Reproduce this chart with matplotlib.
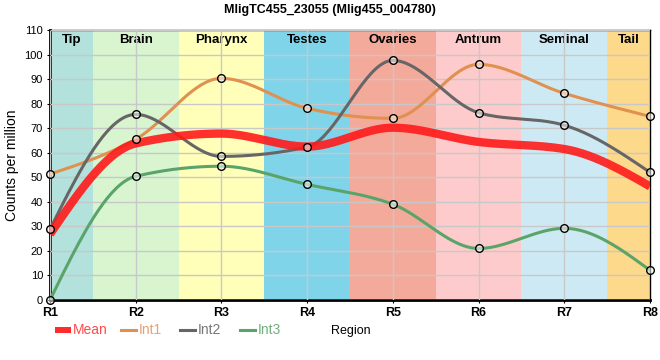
import matplotlib.pyplot as plt
import numpy as np
from matplotlib.lines import Line2D

plt.rcParams['font.family'] = ['Liberation Sans', 'DejaVu Sans']

# data
regions = ['R1', 'R2', 'R3', 'R4', 'R5', 'R6', 'R7', 'R8']
mean = [26.8, 63.8, 67.8, 62.5, 70.2, 64.4, 61.5, 46.3]
int1 = [51.3, 65.5, 90.3, 78.1, 74.0, 96.0, 84.2, 74.8]
int2 = [28.8, 75.6, 58.5, 62.3, 97.6, 76.3, 71.2, 52.0]
int3 = [0.0, 50.4, 54.5, 47.1, 39.0, 21.0, 29.2, 12.1]

tissues = ['Tip', 'Brain', 'Pharynx', 'Testes', 'Ovaries', 'Antrum', 'Seminal', 'Tail']
tissue_colors = ['#b3e2dd', '#d8f5d0', '#ffffb9', '#7fd4ea',
                 '#f4aa9b', '#fdcbcb', '#cdeaf4', '#fdd98b']

W, H = 660, 360


def monotone(x, y, n=40):
    # monotone cubic (d3 curveMonotoneX style) just for drawing smooth lines
    x = np.asarray(x, float)
    y = np.asarray(y, float)
    h = np.diff(x)
    s = np.diff(y) / h
    t = np.zeros(len(x))
    for i in range(1, len(x) - 1):
        p = (s[i - 1] * h[i] + s[i] * h[i - 1]) / (h[i - 1] + h[i])
        t[i] = (np.sign(s[i - 1]) + np.sign(s[i])) * min(abs(s[i - 1]), abs(s[i]), 0.5 * abs(p))
    t[0] = (3 * s[0] - t[1]) / 2
    t[-1] = (3 * s[-1] - t[-2]) / 2
    xs, ys = [], []
    for i in range(len(x) - 1):
        u = np.linspace(0, 1, n)
        h00 = 2 * u**3 - 3 * u**2 + 1
        h10 = u**3 - 2 * u**2 + u
        h01 = -2 * u**3 + 3 * u**2
        h11 = u**3 - u**2
        xs.append(x[i] + u * h[i])
        ys.append(h00 * y[i] + h10 * h[i] * t[i] + h01 * y[i + 1] + h11 * h[i] * t[i + 1])
    return np.concatenate(xs), np.concatenate(ys)


fig = plt.figure(figsize=(W / 100, H / 100), dpi=100)
ax = fig.add_axes([50 / W, 60 / H, 600 / W, 270 / H])

xpos = np.arange(len(regions))

# tissue bands
for i, (name, c) in enumerate(zip(tissues, tissue_colors)):
    lo = max(i - 0.5, 0)
    hi = min(i + 0.5, len(regions) - 1)
    ax.axvspan(lo, hi, color=c, zorder=0, lw=0)
    ax.text((lo + hi) / 2, 105.9, name, ha='center', va='center',
            fontsize=9.5, fontweight='bold', zorder=1)

ax.grid(True, color='#c8c8c8', lw=1, zorder=1)
ax.set_axisbelow(False)

series = [(int1, '#e0904f', 'Int1', '#e8a070'),
          (int2, '#666666', 'Int2', '#777777'),
          (int3, '#5aa469', 'Int3', '#6fb07b')]
for vals, c, lab, tc in series:
    sx, sy = monotone(xpos, vals)
    ax.plot(sx, sy, color=c, lw=2.2, zorder=3)

mx, my = monotone(xpos, mean)
ax.plot(mx, my, color='#ff1a1a', lw=6, alpha=0.9, zorder=4, solid_capstyle='butt')

for vals, c, lab, tc in series:
    ax.plot(xpos, vals, 'o', ms=5.5, mfc=(1, 1, 1, 0.55), mec='black', mew=1,
            zorder=5, clip_on=False)

ax.set_xlim(0, len(regions) - 1)
ax.set_ylim(0, 110)
ax.set_xticks(xpos)
ax.set_xticklabels(regions, fontweight='bold', fontsize=9)
ax.set_yticks(np.arange(0, 111, 10))
ax.tick_params(axis='y', labelsize=8, length=2, pad=3)
ax.tick_params(axis='x', length=2, pad=3)
for sp in ['left', 'bottom']:
    ax.spines[sp].set_linewidth(2)
for sp in ['top', 'right']:
    ax.spines[sp].set_linewidth(1)

ax.set_ylabel('Counts per million', fontsize=10, labelpad=4)
fig.text(351 / W, 1 - 331 / H, 'Region', fontsize=9, ha='center', va='center')

fig.text(0.5, 1 - 10 / H, 'MligTC455_23055 (Mlig455_004780)', fontsize=9, fontweight='bold',
         ha='center', va='center')

# legend row along the bottom
ly = 1 - 330 / H
fig.add_artist(Line2D([55 / W, 71 / W], [ly, ly], color='#ff2a2a', lw=4.3,
                      solid_capstyle='butt', transform=fig.transFigure))
fig.text(73 / W, ly, 'Mean', color='#ff4a4a', fontsize=10, va='center')
for (vals, c, lab, tc), x0 in zip(series, [121, 180, 240]):
    fig.add_artist(Line2D([x0 / W, (x0 + 15) / W], [ly, ly], color=c, lw=2.2,
                          transform=fig.transFigure))
    fig.text((x0 + 18) / W, ly, lab, color=tc, fontsize=10, va='center')

fig.savefig('out.png', dpi=100)
